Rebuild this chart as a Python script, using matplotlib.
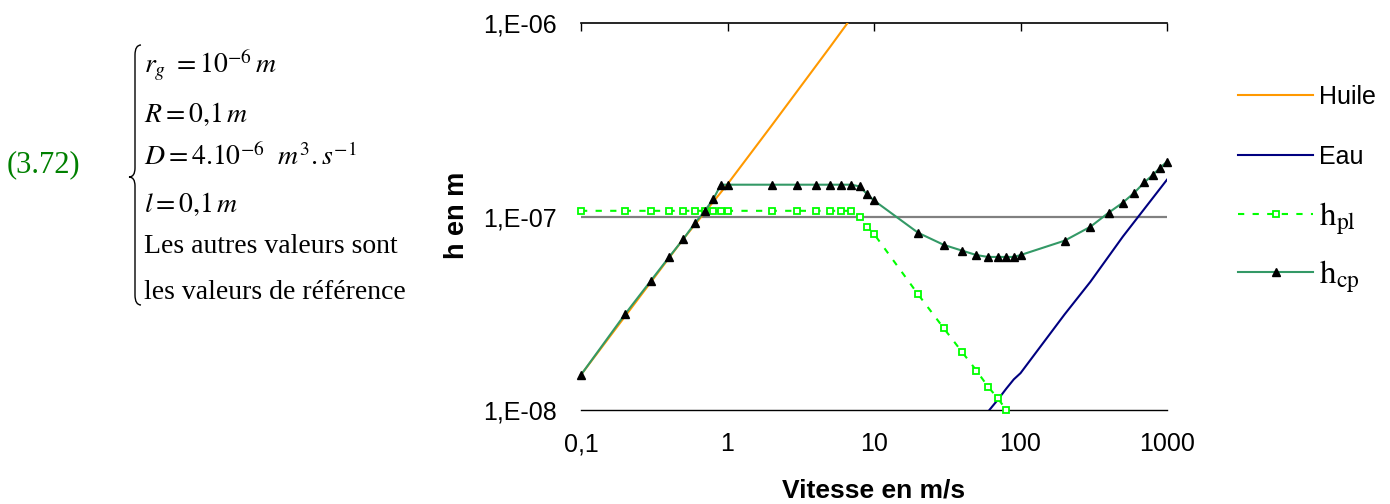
import matplotlib
matplotlib.use('Agg')
import matplotlib.pyplot as plt
from matplotlib.path import Path
from matplotlib.patches import PathPatch
from matplotlib.legend import Legend
from matplotlib.ticker import FixedLocator, FixedFormatter, NullLocator

plt.rcParams['font.family'] = ['Liberation Sans', 'DejaVu Sans']
plt.rcParams['mathtext.fontset'] = 'stix'

# ---------------- data ----------------
v_cp = [0.1, 0.2, 0.3, 0.4, 0.5, 0.6, 0.7, 0.8, 0.9,
        1, 2, 3, 4, 5, 6, 7, 8, 9, 10,
        20, 30, 40, 50, 60, 70, 80, 90,
        100, 200, 300, 400, 500, 600, 700, 800, 900, 1000]
h_cp = [1.52e-8, 3.13e-8, 4.66e-8, 6.18e-8, 7.66e-8, 9.25e-8, 1.07e-7, 1.23e-7, 1.46e-7,
        1.46e-7, 1.46e-7, 1.46e-7, 1.46e-7, 1.46e-7, 1.46e-7, 1.46e-7, 1.43e-7, 1.30e-7, 1.21e-7,
        8.24e-8, 7.13e-8, 6.66e-8, 6.32e-8, 6.18e-8, 6.18e-8, 6.18e-8, 6.18e-8,
        6.32e-8, 7.50e-8, 8.85e-8, 1.047e-7, 1.18e-7, 1.33e-7, 1.50e-7, 1.64e-7, 1.79e-7, 1.92e-7]

v_pl = [0.1, 0.2, 0.3, 0.4, 0.5, 0.6, 0.7, 0.8, 0.9,
        1, 2, 3, 4, 5, 6, 7, 8, 9, 10,
        20, 30, 40, 50, 60, 70, 80]
h_pl = [1.07e-7, 1.07e-7, 1.07e-7, 1.07e-7, 1.07e-7, 1.07e-7, 1.07e-7, 1.07e-7, 1.07e-7,
        1.07e-7, 1.07e-7, 1.07e-7, 1.07e-7, 1.07e-7, 1.07e-7, 1.07e-7, 1.00e-7, 8.85e-8, 8.13e-8,
        3.96e-8, 2.64e-8, 1.99e-8, 1.60e-8, 1.32e-8, 1.15e-8, 1.00e-8]

v_huile = [0.1, 0.5, 1, 2, 5, 6.6]
h_huile = [1.52e-8, 7.66e-8, 1.47e-7, 2.95e-7, 7.5e-7, 1.0e-6]

v_eau = [60, 70, 80, 90, 100, 200, 300, 500, 1000]
h_eau = [9.8e-9, 1.13e-8, 1.29e-8, 1.44e-8, 1.55e-8, 3.12e-8, 4.6e-8, 7.88e-8, 1.55e-7]

x_ticks = [0.1, 1, 10, 100, 1000]
x_labels = ['0,1', '1', '10', '100', '1000']
y_ticks = [1e-8, 1e-7, 1e-6]
y_labels = ['1,E-08', '1,E-07', '1,E-06']

series_labels = ['Huile', 'Eau', r'$\mathrm{h}_{\mathrm{pl}}$', r'$\mathrm{h}_{\mathrm{cp}}$']

eq_lines = [r'$r_g\ =10^{-6}\,m$',
            r'$R=0{,}1\,m$',
            r'$D=4.10^{-6}\ \ m^3.s^{-1}$',
            r'$l=0{,}1\,m$',
            'Les autres valeurs sont',
            'les valeurs de référence']
eq_baselines = [73, 122, 165, 212, 253, 299]

# ---------------- figure ----------------
W, H = 1390, 504
fig = plt.figure(figsize=(W / 100, H / 100), dpi=100)
ax = fig.add_axes([581 / W, 1 - 410 / H, (1167 - 581) / W, (410 - 23) / H])

ax.set_xscale('log')
ax.set_yscale('log')
ax.set_xlim(0.1, 1000)
ax.set_ylim(1e-8, 1e-6)

l_huile, = ax.plot(v_huile, h_huile, color='#FF9900', lw=1.5, zorder=3)
l_eau, = ax.plot(v_eau, h_eau, color='#000080', lw=1.5, zorder=3)
l_pl, = ax.plot(v_pl, h_pl, color='#00FF00', lw=1.5, ls=(0, (3, 4)), marker='s', ms=4.5,
                mfc='white', mec='#00FF00', mew=1.3, zorder=4, clip_on=False)
l_cp, = ax.plot(v_cp, h_cp, color='#339966', lw=1.5, marker='^', ms=5.5, mfc='black',
                mec='black', zorder=5, clip_on=False)

# axes styling
for s in ['left', 'right']:
    ax.spines[s].set_visible(False)
ax.spines['top'].set_color('black')
ax.spines['top'].set_linewidth(1.2)
ax.spines['bottom'].set_color('black')
ax.spines['bottom'].set_linewidth(1.0)
ax.axhline(1e-7, color='#808080', lw=1.6, zorder=1)

ax.xaxis.set_major_locator(FixedLocator(x_ticks))
ax.xaxis.set_major_formatter(FixedFormatter(x_labels))
ax.xaxis.set_minor_locator(NullLocator())
ax.yaxis.set_major_locator(FixedLocator(y_ticks))
ax.yaxis.set_major_formatter(FixedFormatter(y_labels))
ax.yaxis.set_minor_locator(NullLocator())
ax.tick_params(axis='x', which='major', top=True, bottom=False, direction='in',
               length=6, width=1.0, color='black', labelbottom=True, labeltop=False,
               labelsize=18, pad=16)
ax.tick_params(axis='y', which='major', left=False, right=False, labelsize=18, pad=14)

ax.set_xlabel('Vitesse en m/s', fontsize=19, fontweight='bold', va='baseline')
ax.xaxis.set_label_coords(0.5, (410 - 497) / 387)
ax.set_ylabel('h en m', fontsize=19.5, fontweight='bold', va='center')
ax.yaxis.set_label_coords((457 - 581) / 586, (410 - 215) / 387)

# legend: one entry per box so the rows sit where the reference puts them
handles = [l_huile, l_eau, l_pl, l_cp]
row_y = [97, 157, 219, 277]
row_fs = [18, 18, 24, 24]
for hnd, lab, yc, fs in zip(handles, series_labels, row_y, row_fs):
    fpx = fs * 100 / 72
    lg = Legend(ax, [hnd], [lab], loc='center left',
                bbox_to_anchor=(1238 / W, 1 - yc / H), bbox_transform=fig.transFigure,
                frameon=False, fontsize=fs, borderpad=0, borderaxespad=0,
                handlelength=75 / fpx, handletextpad=6 / fpx)
    ax.add_artist(lg)

# left annotation
fig.text(7 / W, 1 - 165 / H, '(3.72)', color='#008000', fontsize=22,
         family='Liberation Serif', ha='left', va='center')
for line, yb in zip(eq_lines, eq_baselines):
    fig.text(144 / W, 1 - yb / H, line, fontsize=20, family='Liberation Serif',
             ha='left', va='baseline')

def P(x, y):
    return (x / W, 1 - y / H)

verts = [P(141, 45), P(135, 45), P(135, 55), P(135, 168), P(135, 177), P(129, 177),
         P(135, 177), P(135, 186), P(135, 295), P(135, 305), P(141, 305)]
codes = [Path.MOVETO, Path.CURVE3, Path.CURVE3, Path.LINETO, Path.CURVE3, Path.CURVE3,
         Path.CURVE3, Path.CURVE3, Path.LINETO, Path.CURVE3, Path.CURVE3]
fig.patches.append(PathPatch(Path(verts, codes), transform=fig.transFigure,
                             fill=False, lw=1.0, edgecolor='black'))

fig.savefig('out.png', dpi=100)
